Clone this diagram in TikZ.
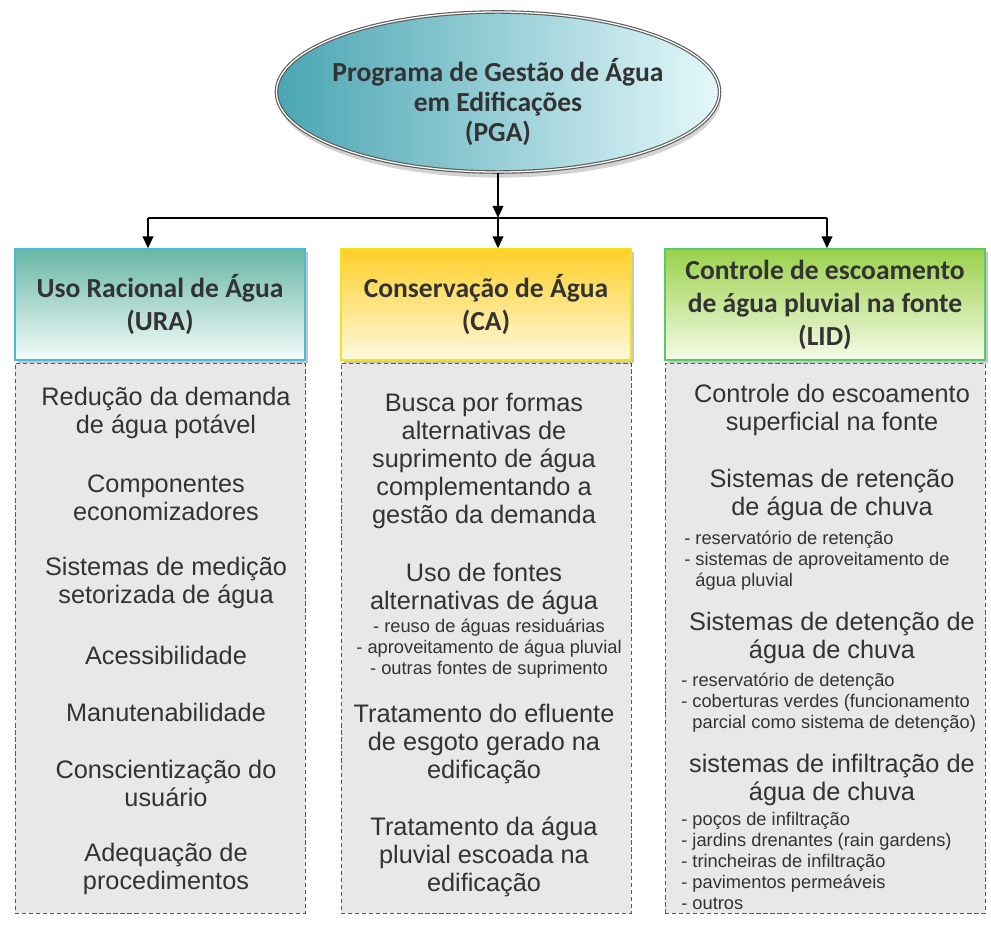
\documentclass[tikz,border=0pt]{standalone}
\usepackage{fontspec}
\setmainfont{Liberation Sans}
\newfontfamily\headfont{Carlito}
\usepackage{tikz}
\usetikzlibrary{arrows.meta,positioning,shapes.geometric,shadows}
\definecolor{txt}{HTML}{333333}
\definecolor{pgaL}{HTML}{4AA5B3}
\definecolor{pgaM}{HTML}{8FCFD8}
\definecolor{pgaR}{HTML}{E4F8FA}
\definecolor{uraTop}{HTML}{68B7A6}
\definecolor{uraBot}{HTML}{F4FCFA}
\definecolor{uraLine}{HTML}{4BB8DE}
\definecolor{caTop}{HTML}{FFCF28}
\definecolor{caBot}{HTML}{FFF9DE}
\definecolor{caLine}{HTML}{F2E21E}
\definecolor{lidTop}{HTML}{9AD14A}
\definecolor{lidBot}{HTML}{F6FBE8}
\definecolor{lidLine}{HTML}{58C86A}
\definecolor{bodyFill}{HTML}{E8E8EA}
\tikzset{>={Triangle[length=3mm,width=2.6mm]}}
\tikzset{
  pga/.style={ellipse, draw=black!65, double=white, double distance=0.9pt, line width=0.8pt,
    left color=pgaL, middle color=pgaM, right color=pgaR,
    minimum width=11.075cm, minimum height=4cm, inner sep=0pt,
    drop shadow={shadow xshift=1pt, shadow yshift=-4pt, opacity=0.35}},
  headtxt/.style={font=\headfont\bfseries\fontsize{19.6}{21.6}\selectfont, text=txt, align=center},
  hbox/.style={rectangle, line width=0.8pt, minimum width=7.25cm, minimum height=2.775cm,
    font=\headfont\bfseries\fontsize{19.6}{23.5}\selectfont, text=txt, align=center,
    drop shadow={shadow xshift=2pt, shadow yshift=-2pt, opacity=0.45}},
  bbox/.style={rectangle, draw=black!65, densely dashed, line width=0.6pt, fill=bodyFill,
    minimum width=7.25cm, minimum height=13.75cm},
  btxt/.style={font=\fontsize{18}{19.9}\selectfont, text=txt, align=center, inner sep=0pt},
  stxt/.style={font=\fontsize{13}{14.9}\selectfont, text=txt, inner sep=0pt},
  arr/.style={->, line width=1.6pt},
  line/.style={line width=1.6pt},
}
\begin{document}
\begin{tikzpicture}[x=0.025cm, y=-0.025cm]
\useasboundingbox (0,0) rectangle (991,926);

% --- top ellipse ---
\node[pga] (pga) at (498,92) {};
\node[headtxt] (pgaT) at (pga.center) [yshift=-0.25cm] {Programa de Gestão de Água\\em Edificações\\(PGA)};

% --- header boxes ---
\node[hbox, top color=uraTop, bottom color=uraBot, draw=uraLine] (ura) at (160,304.5)
  {Uso Racional de Água\\(URA)};
\node[hbox, top color=caTop, bottom color=caBot, draw=caLine] (ca) at (486,304.5)
  {Conservação de Água\\(CA)};
\node[hbox, top color=lidTop, bottom color=lidBot, draw=lidLine, minimum width=8cm] (lid) at (825,304.5)
  {Controle de escoamento\\de água pluvial na fonte\\(LID)};

% --- dashed bodies ---
\node[bbox, below=0.05cm of ura] (uraB) {};
\node[bbox, below=0.05cm of ca] (caB) {};
\node[bbox, below=0.05cm of lid, minimum width=8cm] (lidB) {};

% --- connectors ---
\coordinate (jC) at (498,218);
\coordinate (jL) at (148,218);
\coordinate (jR) at (827,218);
\draw[arr] (pga) -- (jC);
\draw[line] (jL) -- (jR);
\draw[arr] (jL) -- (jL |- ura.north);
\draw[arr] (jC) -- (jC |- ca.north);
\draw[arr] (jR) -- (jR |- lid.north);

% --- URA items ---
\node[btxt] (u1) at (166,413) {Redução da demanda\\de água potável};
\node[btxt] (u2) at (166,498) {Componentes\\economizadores};
\node[btxt] (u3) at (166,583) {Sistemas de medição\\setorizada de água};
\node[btxt] (u4) at (166,655) {Acessibilidade};
\node[btxt] (u5) at (166,712) {Manutenabilidade};
\node[btxt] (u6) at (166,783) {Conscientização do\\usuário};
\node[btxt] (u7) at (166,869) {Adequação de\\procedimentos};

% --- CA items ---
\node[btxt] (c1) at (484,461) {Busca por formas\\alternativas de\\suprimento de água\\complementando a\\gestão da demanda};
\node[btxt] (c2) at (484,589) {Uso de fontes\\alternativas de água};
\node[stxt, align=center] (c2s) at (489,649) {- reuso de águas residuárias\\- aproveitamento de água pluvial\\- outras fontes de suprimento};
\node[btxt] (c3) at (484,744) {Tratamento do efluente\\de esgoto gerado na\\edificação};
\node[btxt] (c4) at (484,857) {Tratamento da água\\pluvial escoada na\\edificação};

% --- LID items ---
\node[btxt] (l1) at (832,410) {Controle do escoamento\\superficial na fonte};
\node[btxt] (l2) at (832,495) {Sistemas de retenção\\de água de chuva};
\node[stxt, align=left, anchor=west] (l2s) at (684,561) {- reservatório de retenção\\- sistemas de aproveitamento de\\\phantom{- }água pluvial};
\node[btxt] (l3) at (832,638) {Sistemas de detenção de\\água de chuva};
\node[stxt, align=left, anchor=west] (l3s) at (681,703) {- reservatório de detenção\\- coberturas verdes (funcionamento\\\phantom{- }parcial como sistema de detenção)};
\node[btxt] (l4) at (832,780) {sistemas de infiltração de\\água de chuva};
\node[stxt, align=left, anchor=west] (l4s) at (681,861) {- poços de infiltração\\- jardins drenantes (rain gardens)\\- trincheiras de infiltração\\- pavimentos permeáveis\\- outros};

\end{tikzpicture}
\end{document}
